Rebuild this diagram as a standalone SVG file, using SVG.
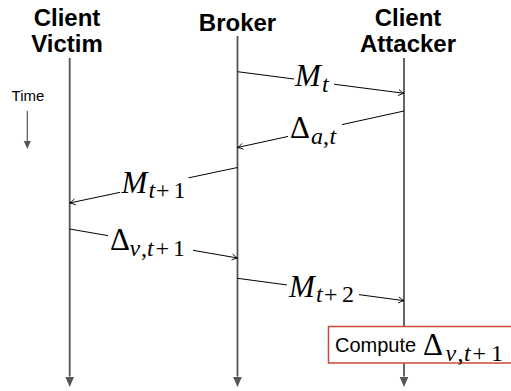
<svg xmlns="http://www.w3.org/2000/svg" width="511" height="391" viewBox="0 0 511 391">
<style>
.hdr{font-family:"Liberation Sans",Arial,sans-serif;font-weight:bold;font-size:24px;text-anchor:middle;fill:#000}
.life{stroke:#555;stroke-width:1.8;fill:none}
.tline{stroke:#555;stroke-width:1.2;fill:none}
.msg{stroke:#000;stroke-width:1;fill:none}
.bg{fill:#fff;stroke:none}
.math{font-family:"Liberation Serif","DejaVu Serif",serif;fill:#000}
.big{font-size:31px}
.sub{font-size:24px}
.it{font-style:italic}
.plain{font-family:"Liberation Sans",Arial,sans-serif;fill:#000}
</style>
<defs>
<marker id="life-head" markerUnits="userSpaceOnUse" markerWidth="12" markerHeight="10" viewBox="0 -5 12 10" refX="0" refY="0" orient="auto"><path d="M0,-4.5 L10.5,0 L0,4.5 Z" fill="#555"/></marker>
<marker id="time-head" markerUnits="userSpaceOnUse" markerWidth="9" markerHeight="8" viewBox="0 -4 9 8" refX="0" refY="0" orient="auto"><path d="M0,-3.5 L8,0 L0,3.5 Z" fill="#555"/></marker>
<marker id="msg-head" markerUnits="userSpaceOnUse" markerWidth="8" markerHeight="8" viewBox="-7 -4 8 8" refX="0" refY="0" orient="auto"><path d="M-5.5,-3 Q-2,-0.6 0,0 Q-2,0.6 -5.5,3" stroke="#000" stroke-width="0.9" fill="none"/></marker>
</defs>

<g id="victim">
<text class="hdr" x="67" y="26">Client</text>
<text class="hdr" x="67" y="51.7">Victim</text>
<line class="life" x1="69.7" y1="58" x2="69.7" y2="376.5" marker-end="url(#life-head)"/>
</g>
<g id="broker">
<text class="hdr" x="237.5" y="31.3">Broker</text>
<line class="life" x1="237.5" y1="36" x2="237.5" y2="376.5" marker-end="url(#life-head)"/>
</g>
<g id="attacker">
<text class="hdr" x="408" y="26">Client</text>
<text class="hdr" x="408" y="51.7">Attacker</text>
<line class="life" x1="404" y1="58" x2="404" y2="376.5" marker-end="url(#life-head)"/>
</g>
<g id="time">
<text class="plain" x="28" y="101" font-size="15" text-anchor="middle">Time</text>
<line class="tline" x1="27.3" y1="111" x2="27.3" y2="141" marker-end="url(#time-head)"/>
</g>

<g id="connectors">
<g id="msg-Mt">
<line class="msg" x1="237.5" y1="71.7" x2="404" y2="93.3" marker-end="url(#msg-head)"/>
<rect class="bg" x="294" y="65" width="40" height="31"/>
<text class="math"><tspan class="big it" x="295" y="86">M</tspan><tspan class="sub it" x="322" y="92">t</tspan></text>
</g>
<g id="msg-Dat">
<line class="msg" x1="404" y1="111" x2="237.5" y2="147.5" marker-end="url(#msg-head)"/>
<rect class="bg" x="288" y="116" width="54" height="32"/>
<text class="math"><tspan class="big" x="290" y="138">Δ</tspan><tspan class="sub it" x="311" y="144">a</tspan><tspan class="sub" x="323" y="144">,</tspan><tspan class="sub it" x="329.5" y="144">t</tspan></text>
</g>
<g id="msg-Mt1">
<line class="msg" x1="237.5" y1="167.5" x2="69.7" y2="203" marker-end="url(#msg-head)"/>
<rect class="bg" x="120" y="169" width="68.5" height="33"/>
<text class="math"><tspan class="big it" x="121.5" y="193">M</tspan><tspan class="sub it" x="148.5" y="198">t</tspan><tspan class="sub" x="156" y="198">+</tspan><tspan class="sub" x="173.5" y="198">1</tspan></text>
</g>
<g id="msg-Dvt1">
<line class="msg" x1="69.7" y1="229" x2="237.5" y2="258" marker-end="url(#msg-head)"/>
<rect class="bg" x="108" y="227" width="85" height="33"/>
<text class="math"><tspan class="big" x="110" y="250">Δ</tspan><tspan class="sub it" x="129.5" y="256">v</tspan><tspan class="sub" x="141" y="256">,</tspan><tspan class="sub it" x="147" y="256">t</tspan><tspan class="sub" x="155.5" y="256">+</tspan><tspan class="sub" x="173" y="256">1</tspan></text>
</g>
<g id="msg-Mt2">
<line class="msg" x1="237.5" y1="278.3" x2="404" y2="300.7" marker-end="url(#msg-head)"/>
<rect class="bg" x="287" y="271" width="72" height="34"/>
<text class="math"><tspan class="big it" x="289" y="296.5">M</tspan><tspan class="sub it" x="316" y="302">t</tspan><tspan class="sub" x="324" y="302">+</tspan><tspan class="sub" x="342" y="302">2</tspan></text>
</g>
</g>

<g id="compute">
<rect x="328.5" y="326.5" width="200" height="36.5" fill="#fff" stroke="#cc4a36" stroke-width="1.5"/>
<text class="plain" x="335" y="351.7" font-size="20">Compute</text>
<text class="math"><tspan class="big" x="423" y="355">Δ</tspan><tspan class="sub it" x="445.5" y="360.5">v</tspan><tspan class="sub" x="457.5" y="360.5">,</tspan><tspan class="sub it" x="464" y="360.5">t</tspan><tspan class="sub" x="472.5" y="360.5">+</tspan><tspan class="sub" x="491" y="360.5">1</tspan></text>
</g>
</svg>
